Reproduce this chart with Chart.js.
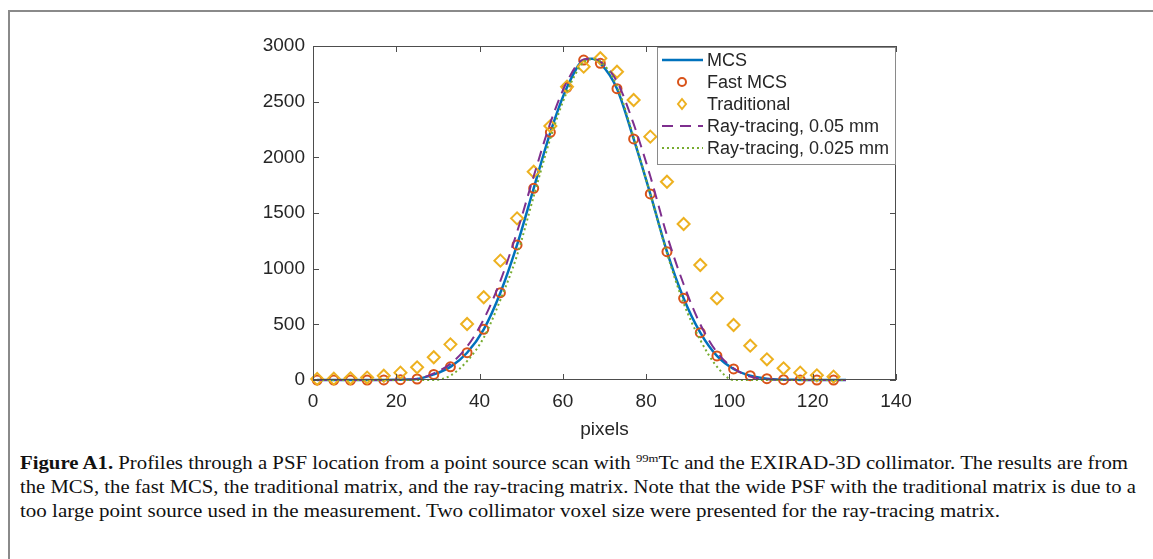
<!DOCTYPE html>
<html>
<head>
<meta charset="utf-8">
<script src="https://cdn.jsdelivr.net/npm/chart.js@4"></script>
<style>
  html, body { margin: 0; padding: 0; background: #fff; }
  body { width: 1153px; height: 559px; position: relative; overflow: hidden; }
  #frame { position: absolute; left: 8px; top: 10px; width: 1160px; height: 560px;
           border-top: 2px solid #8a8a8a; border-left: 2px solid #8a8a8a; }
  #wrap { position: absolute; left: 0; top: 0; width: 1153px; height: 445px; }
  #caption { position: absolute; left: 20px; top: 451px; font-family: "Liberation Serif", serif;
             font-size: 18px; color: #111; }
  #caption div { white-space: nowrap; width: max-content; transform-origin: 0 0; height: 24px; line-height: 24px; }
  sup { font-size: 11px; vertical-align: 7px; line-height: 0; }
</style>
</head>
<body>
<div id="frame"></div>
<div id="wrap"><canvas id="psfChart"></canvas></div>
<div id="caption">
  <div data-w="1108"><b>Figure A1.</b> Profiles through a PSF location from a point source scan with <sup>99m</sup>Tc and the EXIRAD-3D collimator. The results are from</div>
  <div data-w="1116">the MCS, the fast MCS, the traditional matrix, and the ray-tracing matrix. Note that the wide PSF with the traditional matrix is due to a</div>
  <div data-w="980">too large point source used in the measurement. Two collimator voxel size were presented for the ray-tracing matrix.</div>
</div>
<script>
// Marker positions (pixel index) for Fast MCS and Traditional
const markerPixels = [1,5,9,13,17,21,25,29,33,37,41,45,49,53,57,61,65,69,73,77,81,85,89,93,97,101,105,109,113,117,121,125];
const fastMcs = [0,0,0,0,1,3,9,50,118,245,455,784,1213,1722,2225,2629,2874,2844,2617,2165,1671,1153,734,425,216,99,39,12,3,1,0,0];
const traditional = [10,12,15,22,38,66,114,204,320,503,743,1072,1452,1871,2281,2635,2814,2890,2769,2515,2186,1781,1401,1033,734,494,308,186,105,66,42,30];

// Line positions for the continuous curves
const linePixels = [1,5,9,13,17,21,25,29,33,37,41,45,49,53,57,61,65,67,69,73,77,81,85,89,93,97,101,105,109,113,117,121,125,128];
const mcs = [0,0,0,0,1,3,9,50,118,245,455,784,1213,1722,2225,2629,2874,2885,2844,2617,2165,1671,1153,734,425,216,99,39,12,3,1,0,0,0];
const ray05 = [0,0,0,0,0,2,10,60,145,300,545,890,1330,1830,2310,2680,2880,2885,2860,2680,2300,1830,1300,860,500,250,105,30,6,1,0,0,0,0];
const ray025 = [0,0,0,0,0,0,0,0,40,170,380,720,1120,1650,2170,2590,2855,2880,2860,2640,2180,1670,1140,690,360,120,0,0,0,0,0,0,0,0];

const xTicks = [0,20,40,60,80,100,120,140];
const yTicks = [0,500,1000,1500,2000,2500,3000];

const legendLabels = ['MCS', 'Fast MCS', 'Traditional', 'Ray-tracing, 0.05 mm', 'Ray-tracing, 0.025 mm'];
const colors = ['#0072BD', '#D95319', '#EDB120', '#7E2F8E', '#77AC30'];

function pts(xs, ys) { return xs.map((x, i) => ({ x: x, y: ys[i] })); }

const AXIS = '#4d4d4d';
const FONT = 'Arial, "Liberation Sans", sans-serif';

// box, inward ticks and MATLAB style legend
const matlabBox = {
  id: 'matlabBox',
  afterDraw(chart) {
    const { ctx, chartArea: a, scales } = chart;
    ctx.save();
    ctx.strokeStyle = AXIS;
    ctx.lineWidth = 1;
    ctx.strokeRect(a.left + 0.5, a.top + 0.5, a.right - a.left - 1, a.bottom - a.top - 1);
    const t = 6;
    ctx.beginPath();
    xTicks.forEach(v => {
      const x = Math.round(scales.x.getPixelForValue(v)) + 0.5;
      ctx.moveTo(x, a.bottom); ctx.lineTo(x, a.bottom - t);
      ctx.moveTo(x, a.top); ctx.lineTo(x, a.top + t);
    });
    yTicks.forEach(v => {
      const y = Math.round(scales.y.getPixelForValue(v)) + 0.5;
      ctx.moveTo(a.left, y); ctx.lineTo(a.left + t, y);
      ctx.moveTo(a.right, y); ctx.lineTo(a.right - t, y);
    });
    ctx.stroke();

    // legend
    const lx = 657, ly = 47, lw = a.right - 657, lh = 118;
    ctx.fillStyle = '#fff';
    ctx.fillRect(lx, ly, lw, lh);
    ctx.strokeStyle = '#8a8a8a';
    ctx.strokeRect(lx + 0.5, ly + 0.5, lw - 1, lh - 1);
    const rows = [60, 82, 104, 126, 148];
    ctx.font = '18px ' + FONT;
    ctx.textBaseline = 'middle';
    legendLabels.forEach((lab, i) => {
      const y = rows[i];
      ctx.strokeStyle = colors[i];
      ctx.lineWidth = 2;
      if (i === 0 || i >= 3) {
        ctx.setLineDash(i === 3 ? [11, 7] : i === 4 ? [2, 3] : []);
        ctx.lineWidth = i === 0 ? 2.5 : 2;
        ctx.beginPath(); ctx.moveTo(662, y); ctx.lineTo(703, y); ctx.stroke();
        ctx.setLineDash([]);
      } else if (i === 1) {
        ctx.beginPath(); ctx.arc(682, y, 4, 0, Math.PI * 2); ctx.stroke();
      } else {
        ctx.beginPath();
        ctx.moveTo(682, y - 5); ctx.lineTo(686, y); ctx.lineTo(682, y + 5); ctx.lineTo(678, y);
        ctx.closePath(); ctx.stroke();
      }
      ctx.fillStyle = '#262626';
      ctx.fillText(lab, 707, y + 1);
    });
    ctx.restore();
  }
};

new Chart(document.getElementById('psfChart'), {
  type: 'scatter',
  data: {
    datasets: [
      { label: legendLabels[0], data: pts(linePixels, mcs), showLine: true, borderColor: colors[0],
        borderWidth: 2.5, pointRadius: 0, cubicInterpolationMode: 'monotone', order: 5 },
      { label: legendLabels[1], data: pts(markerPixels, fastMcs), borderColor: colors[1], backgroundColor: 'transparent',
        pointStyle: 'circle', pointRadius: 4.5, borderWidth: 2, order: 4 },
      { label: legendLabels[2], data: pts(markerPixels, traditional), borderColor: colors[2], backgroundColor: 'transparent',
        pointStyle: 'rectRot', pointRadius: 6, borderWidth: 2, order: 3 },
      { label: legendLabels[3], data: pts(linePixels, ray05), showLine: true, borderColor: colors[3],
        borderWidth: 2, borderDash: [11, 7], pointRadius: 0, cubicInterpolationMode: 'monotone', order: 2 },
      { label: legendLabels[4], data: pts(linePixels, ray025), showLine: true, borderColor: colors[4],
        borderWidth: 2, borderDash: [2, 3], pointRadius: 0, cubicInterpolationMode: 'monotone', order: 1 }
    ]
  },
  options: {
    responsive: true,
    maintainAspectRatio: false,
    animation: false,
    clip: false,
    layout: { padding: { top: 46, right: 257, left: 0, bottom: 0 } },
    plugins: { legend: { display: false }, tooltip: { enabled: false } },
    scales: {
      x: {
        type: 'linear', min: 0, max: 140,
        afterBuildTicks: s => { s.ticks = xTicks.map(v => ({ value: v })); },
        afterFit: s => { s.height = 65; },
        grid: { display: false, drawTicks: false },
        border: { display: false },
        ticks: { color: '#262626', font: { size: 19, family: FONT }, padding: 10, callback: v => String(v) },
        title: { display: true, text: 'pixels', color: '#262626', font: { size: 19, family: FONT }, padding: { top: 2 } }
      },
      y: {
        min: 0, max: 3000,
        afterBuildTicks: s => { s.ticks = yTicks.map(v => ({ value: v })); },
        afterFit: s => { s.width = 313; },
        grid: { display: false, drawTicks: false },
        border: { display: false },
        ticks: { color: '#262626', font: { size: 19, family: FONT }, padding: 8, callback: v => String(v) }
      }
    }
  },
  plugins: [matlabBox]
});

// squeeze caption lines to the condensed widths of the original typesetting
document.querySelectorAll('#caption div').forEach(d => {
  const w = d.getBoundingClientRect().width;
  const target = +d.dataset.w;
  d.style.transform = 'scaleX(' + (target / w) + ')';
});
</script>
</body>
</html>
